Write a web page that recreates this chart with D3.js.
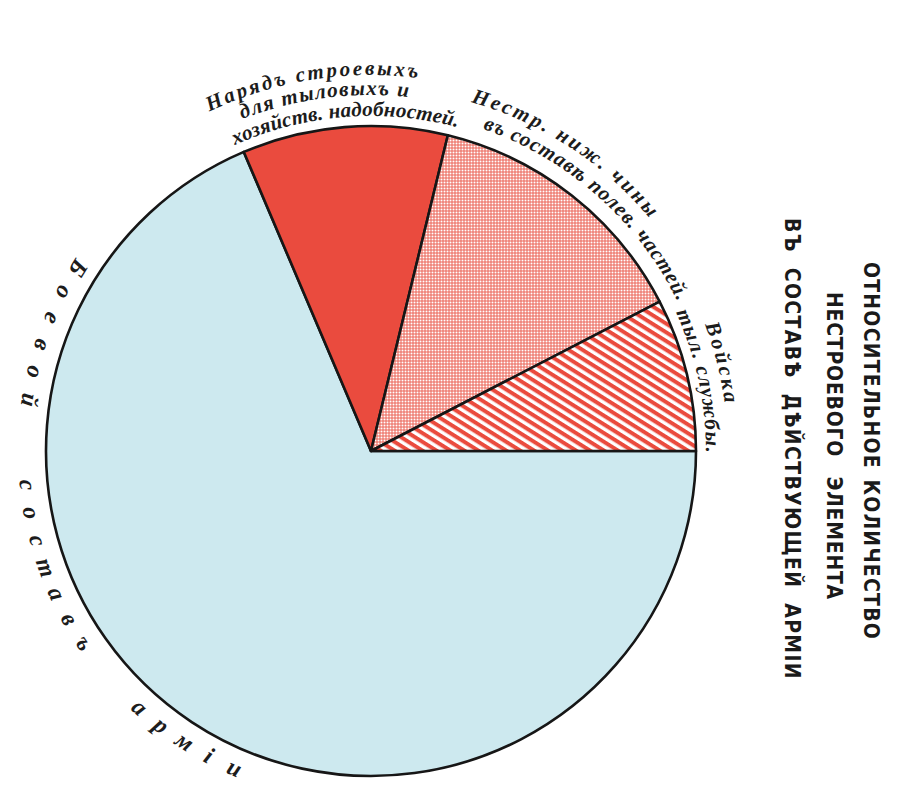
<!DOCTYPE html>
<meta charset="utf-8">
<style>
body{margin:0;background:#fff}
svg{display:block;background:#fff}
</style>
<svg id="svg"></svg>
<script src="https://d3js.org/d3.v7.min.js"></script>
<script>
var width = 902, height = 801
var cx = 371, cy = 451, R = 325

// data (share of the field army, %)
var categories = ["Боевой составъ арміи",
  "Нарядъ строевыхъ для тыловыхъ и хозяйств. надобностей",
  "Нестр. ниж. чины въ составѣ полев. частей",
  "Войска тыл. службы"]
var shares = [68.6, 10.2, 13.6, 7.6]

var labelLines = [
  ["Нарядъ строевыхъ", "для тыловыхъ и", "хозяйств. надобностей."],
  ["Нестр. ниж. чины", "въ составѣ полев. частей."],
  ["Войска", "тыл. службы."]
]
var mainLabel = "Боевой  составъ  арміи"
var titleLines = ["ОТНОСИТЕЛЬНОЕ КОЛИЧЕСТВО", "НЕСТРОЕВОГО ЭЛЕМЕНТА", "ВЪ СОСТАВѢ ДѢЙСТВУЮЩЕЙ АРМІИ"]

// layout / style (not data)
var fills = ["#cde9ef", "#ea4b3e", "url(#dots)", "url(#stripes)"]
// per label line: offset from slice middle (deg), baseline radius, arc span (deg)
var labelLayout = [
  [[-4.3, 376, 33], [-2.8, 356, 27.5], [0.2, 335, 39]],
  [[-4.9, 363, 34.5], [3.5, 341, 45]],
  [[-0.3, 357, 13.5], [1.7, 335, 25]]
]
var titleLayout = [[864, 451, 378, 3], [827, 446, 308, 12], [785, 449, 462, 7]]

var svg = d3.select("#svg").attr("width", width).attr("height", height)
var defs = svg.append("defs")

var dots = defs.append("pattern").attr("id", "dots")
  .attr("patternUnits", "userSpaceOnUse").attr("width", 3).attr("height", 3)
dots.append("rect").attr("width", 3).attr("height", 3).attr("fill", "#ec6356")
dots.append("rect").attr("x", 0.5).attr("y", 0.5).attr("width", 2).attr("height", 2).attr("fill", "#fff")

var stripes = defs.append("pattern").attr("id", "stripes")
  .attr("patternUnits", "userSpaceOnUse").attr("width", 7.4).attr("height", 7.4)
  .attr("patternTransform", "rotate(32)")
stripes.append("rect").attr("width", 7.4).attr("height", 7.4).attr("fill", "#fff")
stripes.append("rect").attr("width", 7.4).attr("height", 4).attr("fill", "#ea4b3e")

var pie = d3.pie().sort(null)
  .startAngle(Math.PI / 2).endAngle(Math.PI / 2 + 2 * Math.PI)
var arcs = pie(shares)
var arc = d3.arc().innerRadius(0).outerRadius(R)

var g = svg.append("g").attr("transform", "translate(" + cx + "," + cy + ")")

g.selectAll("path.slice").data(arcs).enter().append("path")
  .attr("class", "slice")
  .attr("d", arc)
  .attr("fill", (d, i) => fills[i])
  .attr("stroke", "#161616")
  .attr("stroke-width", 2.6)
  .attr("stroke-linejoin", "round")

function pt(r, deg) {
  var a = deg * Math.PI / 180
  return [r * Math.sin(a), -r * Math.cos(a)]
}

function measure(txt, font, style, weight, size, ws, stretch) {
  var t = svg.append("text").attr("font-family", font).attr("font-style", style)
    .attr("font-weight", weight).attr("font-size", size).attr("word-spacing", ws || 0)
    .style("font-stretch", stretch || "normal").text(txt)
  var l = t.node().getComputedTextLength()
  t.remove()
  return l
}

var labelFont = "Liberation Serif"
var labelSize = 21

// curved labels for the three small slices
labelLines.forEach((lines, k) => {
  var d = arcs[k + 1]
  var mid = (d.startAngle + d.endAngle) / 2 * 180 / Math.PI
  lines.forEach((line, j) => {
    var lay = labelLayout[k][j]
    var c = mid + lay[0], r = lay[1]
    var p0 = pt(r, c - 85), p1 = pt(r, c + 85)
    var id = "lp" + k + "_" + j
    g.append("path").attr("id", id).attr("fill", "none")
      .attr("d", "M" + p0 + " A" + r + "," + r + " 0 0 1 " + p1)
    var target = lay[2] * Math.PI / 180 * r
    var nat = measure(line, labelFont, "italic", "bold", labelSize)
    var ls = (target - nat) / line.length
    g.append("text")
      .attr("font-family", labelFont).attr("font-style", "italic").attr("font-weight", "bold")
      .attr("font-size", labelSize).attr("fill", "#1c1c1c")
      .attr("letter-spacing", ls)
      .append("textPath").attr("href", "#" + id)
      .attr("startOffset", "50%").attr("text-anchor", "middle")
      .text(line)
  })
})

// spaced label along the left of the big slice, letters facing the centre
var bStart = 302, bStep = 4.7, bR = 353
mainLabel.split("").forEach((ch, i) => {
  if (ch === " ") return
  var th = bStart - i * bStep
  var p = pt(bR, th)
  g.append("text")
    .attr("transform", "translate(" + p + ") rotate(" + (th + 180) + ")")
    .attr("text-anchor", "middle")
    .attr("font-family", labelFont).attr("font-style", "italic").attr("font-weight", "bold")
    .attr("font-size", 24).attr("fill", "#1c1c1c")
    .text(ch)
})

// title, rotated to read top-to-bottom
var titleFont = "DejaVu Sans Condensed, DejaVu Sans"
titleLines.forEach((line, i) => {
  var lay = titleLayout[i]
  var nat = measure(line, titleFont, "normal", "bold", 21, lay[3], "condensed")
  var ls = (lay[2] - nat) / line.length
  svg.append("text")
    .attr("transform", "translate(" + lay[0] + "," + lay[1] + ") rotate(90)")
    .attr("text-anchor", "middle")
    .attr("font-family", titleFont).attr("font-weight", "bold")
    .style("font-stretch", "condensed")
    .attr("font-size", 21).attr("fill", "#1a1a1a")
    .attr("letter-spacing", ls).attr("word-spacing", lay[3])
    .text(line)
})
</script>
